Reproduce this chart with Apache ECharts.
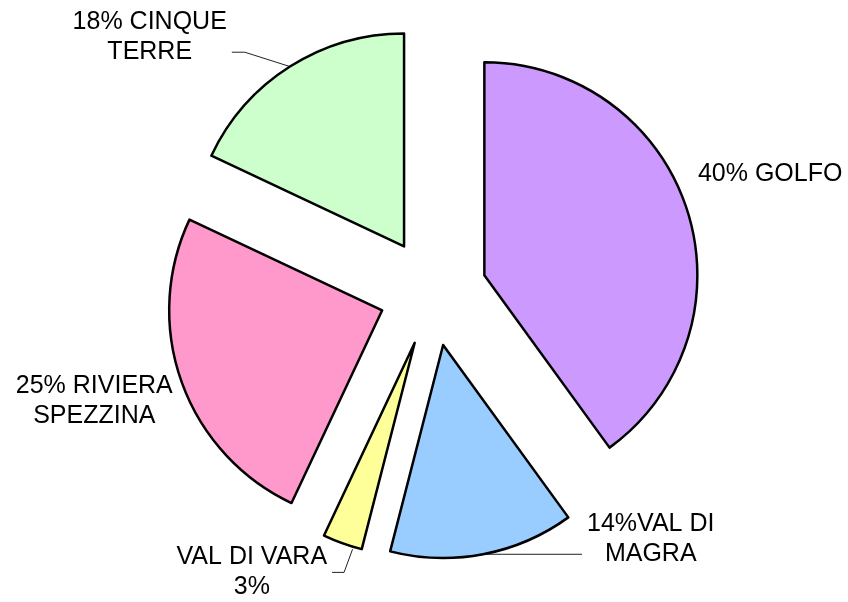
<!DOCTYPE html>
<html>
<head>
<meta charset="utf-8">
<script src="https://cdn.jsdelivr.net/npm/echarts@6/dist/echarts.min.js"></script>
<style>
  html, body { margin: 0; padding: 0; background: #fff; }
  #chart { width: 848px; height: 602px; }
</style>
</head>
<body>
<div id="chart"></div>
<script>
const areas = ["GOLFO", "VAL DI MAGRA", "VAL DI VARA", "RIVIERA SPEZZINA", "CINQUE TERRE"];
const shares = [40, 14, 3, 25, 18];
const labelTexts = ["40% GOLFO", "14%VAL DI\nMAGRA", "VAL DI VARA\n3%", "25% RIVIERA\nSPEZZINA", "18% CINQUE\nTERRE"];
const colors = ["#CC99FF", "#99CCFF", "#FFFF99", "#FF99CC", "#CCFFCC"];

// leader line per slice: [radial length, horizontal length, visible]
const leaders = [
  [0, 6, false],
  [0, 99, true],
  [31, 8, true],
  [0, 4, false],
  [17, 49, true],
];
// nudge of each label from where the pie puts it
const nudges = [
  { dx: 0, dy: -35 },
  { dx: 0, dy: -15 },
  { dx: 8, dy: 0 },
  { dx: 0, dy: 19 },
  { dx: 0, dy: -15 },
];

const chart = echarts.init(document.getElementById("chart"), null, { renderer: "canvas" });

chart.setOption({
  animation: false,
  backgroundColor: "#fff",
  series: [{
    type: "pie",
    center: [433, 292],
    radius: 213,
    startAngle: 90,
    clockwise: true,
    selectedMode: "multiple",
    selectedOffset: 54,
    data: areas.map((name, i) => ({
      name,
      value: shares[i],
      selected: true,
      itemStyle: { color: colors[i] },
      labelLine: {
        show: leaders[i][2],
        length: leaders[i][0],
        length2: leaders[i][1],
      },
    })),
    itemStyle: { borderColor: "#000", borderWidth: 2.5 },
    label: {
      formatter: (p) => labelTexts[p.dataIndex],
      color: "#000",
      fontFamily: "Liberation Sans",
      fontSize: 25,
      lineHeight: 30,
    },
    labelLine: { lineStyle: { color: "#222", width: 1 } },
    labelLayout: (p) => {
      const i = p.dataIndex;
      const half = p.labelRect.width / 2;
      const out = {
        align: "center",
        dx: (p.align === "left" ? half : -half) + nudges[i].dx,
        dy: nudges[i].dy,
      };
      if (p.labelLinePoints) {
        const [a, b, c] = p.labelLinePoints;
        if (i === 4) {
          // cinque terre leader bends just before the label
          out.labelLinePoints = [a, [c[0] + 13, c[1]], c];
        } else if (i === 2) {
          // val di vara leader: keep a short stub under the text edge
          out.labelLinePoints = [[a[0] + 10, a[1] + 6], [b[0] + 12, b[1]], [c[0] + 8, c[1]]];
        }
      }
      return out;
    },
  }],
});
</script>
</body>
</html>
